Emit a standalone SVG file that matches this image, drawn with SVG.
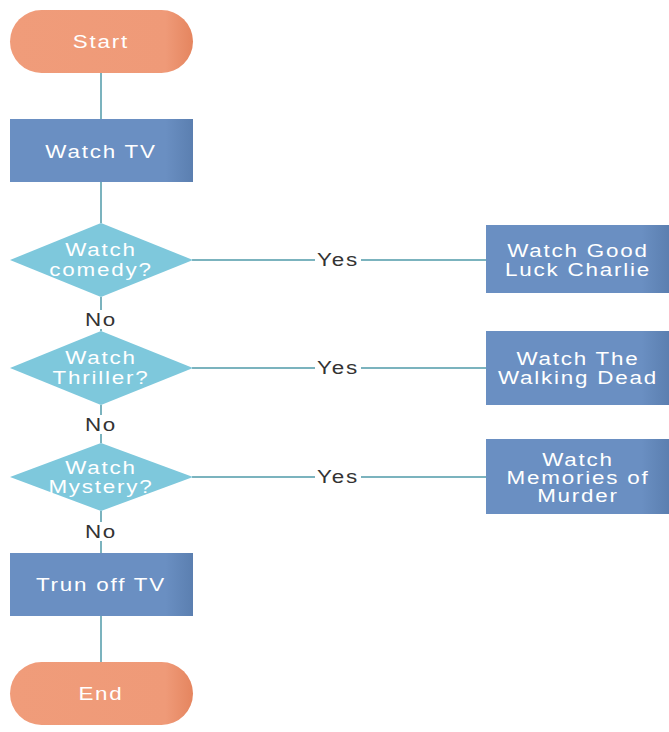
<svg xmlns="http://www.w3.org/2000/svg" width="669" height="732" viewBox="0 0 669 732">
<defs>
<linearGradient id="gBox" x1="0" y1="0" x2="1" y2="0">
<stop offset="0" stop-color="#6a8fc2"/><stop offset="0.85" stop-color="#6a8fc2"/><stop offset="1" stop-color="#5b7fb0"/>
</linearGradient>
<linearGradient id="gPill" x1="0" y1="0" x2="1" y2="0">
<stop offset="0" stop-color="#f09c7a"/><stop offset="0.85" stop-color="#ef9a78"/><stop offset="1" stop-color="#e5855f"/>
</linearGradient>
<style>
.box{fill:url(#gBox);}
.pill{fill:url(#gPill);}
.dia{fill:#7ec8dc;}
.t,.lbl{font-family:"Liberation Sans",Arial,sans-serif;font-size:17.5px;text-anchor:middle;letter-spacing:1.4px;transform-box:fill-box;transform-origin:center;transform:scaleX(1.28);}
.t{fill:#ffffff;}
.lbl{fill:#333333;}
.ln{stroke:#4f9aa8;stroke-width:1.5;fill:none;}
</style>
</defs>
<g id="connectors">
<line class="ln" x1="101" y1="73" x2="101" y2="119"/>
<line class="ln" x1="101" y1="182" x2="101" y2="223"/>
<line class="ln" x1="101" y1="297" x2="101" y2="310"/>
<line class="ln" x1="101" y1="329" x2="101" y2="331"/>
<line class="ln" x1="101" y1="405" x2="101" y2="415"/>
<line class="ln" x1="101" y1="434" x2="101" y2="443"/>
<line class="ln" x1="101" y1="511" x2="101" y2="522"/>
<line class="ln" x1="101" y1="541" x2="101" y2="553"/>
<line class="ln" x1="101" y1="616" x2="101" y2="662"/>
<line class="ln" x1="192" y1="260" x2="315" y2="260"/>
<line class="ln" x1="361" y1="260" x2="486" y2="260"/>
<line class="ln" x1="192" y1="368" x2="315" y2="368"/>
<line class="ln" x1="361" y1="368" x2="486" y2="368"/>
<line class="ln" x1="192" y1="477" x2="315" y2="477"/>
<line class="ln" x1="361" y1="477" x2="486" y2="477"/>
<text class="lbl" x="338" y="266">Yes</text>
<text class="lbl" x="338" y="374">Yes</text>
<text class="lbl" x="338" y="483">Yes</text>
<text class="lbl" x="101" y="326">No</text>
<text class="lbl" x="101" y="431">No</text>
<text class="lbl" x="101" y="538">No</text>
</g>
<g id="start">
<rect class="pill" x="10" y="10" width="183" height="63" rx="31.5"/>
<text class="t" x="101" y="48">Start</text>
</g>
<g id="watchTV">
<rect class="box" x="10" y="119" width="183" height="63"/>
<text class="t" x="101" y="158">Watch TV</text>
</g>
<g id="comedy">
<polygon class="dia" points="101,223 193,260 101,297 10,260"/>
<text class="t" x="101" y="256">Watch</text>
<text class="t" x="101" y="276">comedy?</text>
</g>
<g id="thriller">
<polygon class="dia" points="101,331 193,368 101,405 10,368"/>
<text class="t" x="101" y="364">Watch</text>
<text class="t" x="101" y="384">Thriller?</text>
</g>
<g id="mystery">
<polygon class="dia" points="101,443 193,477 101,511 10,477"/>
<text class="t" x="101" y="474">Watch</text>
<text class="t" x="101" y="493">Mystery?</text>
</g>
<g id="goodLuck">
<rect class="box" x="486" y="225" width="183" height="68"/>
<text class="t" x="578" y="257">Watch Good</text>
<text class="t" x="578" y="276">Luck Charlie</text>
</g>
<g id="walkingDead">
<rect class="box" x="486" y="331" width="183" height="74"/>
<text class="t" x="578" y="365">Watch The</text>
<text class="t" x="578" y="384">Walking Dead</text>
</g>
<g id="memories">
<rect class="box" x="486" y="439" width="183" height="75"/>
<text class="t" x="578" y="466">Watch</text>
<text class="t" x="578" y="484">Memories of</text>
<text class="t" x="578" y="502">Murder</text>
</g>
<g id="turnOff">
<rect class="box" x="10" y="553" width="183" height="63"/>
<text class="t" x="101" y="591">Trun off TV</text>
</g>
<g id="end">
<rect class="pill" x="10" y="662" width="183" height="63" rx="31.5"/>
<text class="t" x="101" y="700">End</text>
</g>
</svg>
